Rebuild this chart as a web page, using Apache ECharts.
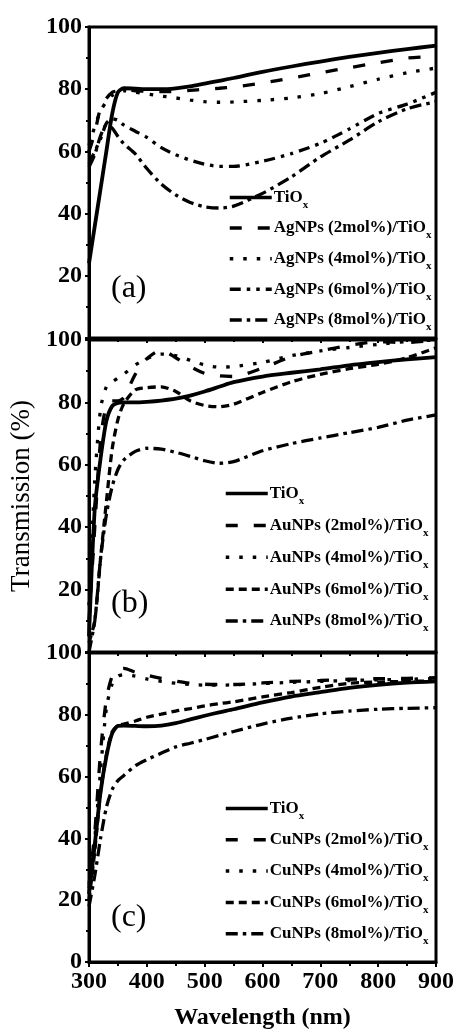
<!DOCTYPE html>
<html><head><meta charset="utf-8">
<script src="https://cdn.jsdelivr.net/npm/echarts@6/dist/echarts.min.js"></script>
<style>html,body{margin:0;padding:0;background:#fff}#c{width:457px;height:1031px}</style>
</head><body><div id="c"></div>
<script>
// ---- data ----
const wavelengths = [300, 310, 320, 330, 340, 350, 360, 380, 400, 425, 450, 475, 500, 525, 550, 600, 650, 700, 750, 800, 850, 900];
const yTicks = [0, 20, 40, 60, 80, 100];
const xTicks = [300, 400, 500, 600, 700, 800, 900];

// panel (a) Ag
const agNames = ['TiOx', 'AgNPs (2mol%)/TiOx', 'AgNPs (4mol%)/TiOx', 'AgNPs (6mol%)/TiOx', 'AgNPs (8mol%)/TiOx'];
const tiA  = [24, 36, 48, 60, 72, 79, 80.3, 80.2, 80, 80, 80.3, 80.9, 81.8, 82.7, 83.6, 85.6, 87.3, 88.9, 90.4, 91.7, 92.9, 94];
const ag2  = [60, 66, 74, 77, 79, 79.5, 79.8, 79.5, 79.3, 79.2, 79.3, 79.6, 80, 80.3, 80.7, 82, 83.6, 85.3, 86.9, 88.5, 90, 90.5];
const ag4  = [62, 68, 73, 76, 78, 79, 79.5, 79, 78.5, 77.8, 77.2, 76.5, 76, 75.8, 75.9, 76.4, 77.2, 78.6, 80.8, 83.2, 85.3, 86.8];
const ag6  = [56, 60, 64, 69, 70.5, 70, 68.5, 66.5, 64.5, 61.2, 58.9, 57.2, 55.9, 55.2, 55.2, 56.8, 59.3, 62.6, 67.2, 72.2, 75.2, 79];
const ag8  = [55, 59, 65, 68.5, 67.5, 64.8, 62.5, 59.2, 54.5, 49.5, 46, 43.6, 42.2, 41.8, 42.4, 46.5, 51.8, 58.2, 63.6, 69.5, 73.7, 76];

// panel (b) Au
const auNames = ['TiOx', 'AuNPs (2mol%)/TiOx', 'AuNPs (4mol%)/TiOx', 'AuNPs (6mol%)/TiOx', 'AuNPs (8mol%)/TiOx'];
const tiB  = [5, 46, 62, 74, 78.8, 79.8, 80, 80, 80.2, 80.6, 81.2, 82.2, 83.5, 85, 86.5, 88.3, 89.5, 90.6, 91.9, 92.9, 93.8, 94.5];
const au2  = [10, 40, 68, 79, 80.5, 80.5, 81.5, 89, 94, 96.8, 94.3, 91.5, 89.3, 88.5, 88.3, 91, 94.6, 96.5, 98.3, 99.4, 99.2, 100];
const au4  = [15, 55, 78, 85, 86.5, 87.8, 89, 92, 94, 95.5, 95, 93.5, 92, 91.3, 91.5, 92.8, 95, 96.5, 97.6, 98.6, 99.5, 100];
const au6  = [3, 10, 30, 48, 65, 74.5, 79.5, 84, 84.7, 85, 83.5, 80.5, 79, 78.6, 79.4, 83.2, 86.6, 89, 90.8, 92.2, 94.3, 97.5];
const au8  = [0, 10, 30, 44, 53, 58.5, 61.5, 64.3, 65.3, 65, 64, 62.7, 61.3, 60.5, 61, 64.5, 66.8, 68.6, 70.3, 72, 74.3, 76];

// panel (c) Cu
const cuNames = ['TiOx', 'CuNPs (2mol%)/TiOx', 'CuNPs (4mol%)/TiOx', 'CuNPs (6mol%)/TiOx', 'CuNPs (8mol%)/TiOx'];
const tiC  = [22, 38, 55, 66.5, 74, 76.4, 76.5, 76.4, 76.3, 76.5, 77.3, 78.5, 79.7, 80.8, 81.8, 84, 85.9, 87.3, 88.7, 89.7, 90.4, 90.8];
const cu2  = [25, 42, 68, 85, 92.5, 94.5, 95, 93.8, 92.8, 91.8, 90.9, 90.2, 89.9, 89.8, 89.8, 90.3, 90.8, 91.1, 91.5, 91.7, 91.8, 92];
const cu4  = [24, 40, 62, 82, 90, 92.5, 93, 92.5, 91.6, 90.8, 90.2, 89.8, 89.6, 89.6, 89.7, 90.1, 90.5, 90.8, 91.1, 91.3, 91.5, 91.8];
const cu6  = [20, 36, 55, 67, 74.5, 76.5, 77, 78, 79.2, 80.2, 81.2, 82, 82.9, 83.6, 84.2, 85.8, 87.2, 88.9, 90.2, 90.6, 90.8, 91];
const cu8  = [18, 28, 40, 50, 55.8, 58.7, 60.3, 63.5, 65.5, 67.6, 69.6, 70.8, 72, 73.3, 74.6, 77, 78.9, 80.3, 81.2, 81.8, 82.1, 82.3];

const panelLabels = ['(a)', '(b)', '(c)'];

// ---- styles ----
const FONT = "'Liberation Serif', 'Times New Roman', serif";
const dashLong = [12, 16];
const dotted = [3.5, 10];
const dashDotDot = [11, 6, 3.5, 6, 3.5, 6];
const dashDot = [12, 5, 3.5, 5];
const dashShort = [8, 5];

const grids = [
  {left: 89, right: 21, top: 27, height: 311},
  {left: 89, right: 21, top: 340, height: 312},
  {left: 89, right: 21, top: 653, height: 311}
];

const panels = [
  {names: agNames, vals: [tiA, ag2, ag4, ag6, ag8], types: ['solid', dashLong, dotted, dashDotDot, dashDot]},
  {names: auNames, vals: [tiB, au2, au4, au6, au8], types: ['solid', dashLong, dotted, dashShort, dashDot]},
  {names: cuNames, vals: [tiC, cu2, cu4, cu6, cu8], types: ['solid', dashLong, dotted, dashShort, dashDot]}
];

const series = [];
panels.forEach((p, gi) => {
  p.names.forEach((nm, si) => {
    series.push({
      type: 'line', name: nm, xAxisIndex: gi, yAxisIndex: gi,
      symbol: 'none', smooth: 0.25, silent: true, animation: false,
      itemStyle: {color: '#000'},
      lineStyle: {color: '#000', width: si === 0 ? 3.8 : 3.3, type: p.types[si], cap: 'butt'},
      data: wavelengths.map((w, i) => [w, p.vals[si][i]])
    });
  });
});

const xAxes = grids.map((g, gi) => ({
  type: 'value', gridIndex: gi, min: 300, max: 900, interval: 100,
  axisLine: {show: true, onZero: false, lineStyle: {color: '#000', width: 3}},
  axisTick: {show: true, inside: false, length: 5, lineStyle: {color: '#000', width: 2}},
  minorTick: {show: true, splitNumber: 2, length: 4, lineStyle: {color: '#000', width: 2}},
  splitLine: {show: false},
  axisLabel: {show: gi === 2, margin: 8, color: '#000', fontFamily: FONT, fontWeight: 'bold', fontSize: 24,
    formatter: v => xTicks.includes(v) ? String(v) : ''},
  name: gi === 2 ? 'Wavelength (nm)' : '',
  nameLocation: 'middle', nameGap: 44,
  nameTextStyle: {color: '#000', fontFamily: FONT, fontWeight: 'bold', fontSize: 24}
}));

const yAxes = grids.map((g, gi) => ({
  type: 'value', gridIndex: gi, min: 0, max: 100, interval: 20,
  axisLine: {show: true, onZero: false, lineStyle: {color: '#000', width: 3}},
  axisTick: {show: true, inside: false, length: 4, lineStyle: {color: '#000', width: 2}},
  minorTick: {show: true, splitNumber: 2, length: 3, lineStyle: {color: '#000', width: 2}},
  splitLine: {show: false},
  axisLabel: {margin: 7, color: '#000', fontFamily: FONT, fontWeight: 'bold', fontSize: 24,
    formatter: v => (gi < 2 && v === 0) ? '' : (yTicks.includes(v) ? String(v) : '')},
  name: gi === 1 ? 'Transmission (%)' : '',
  nameLocation: 'middle', nameGap: 46,
  nameTextStyle: {color: '#000', fontFamily: FONT, fontSize: 27}
}));

const legendTops = [189, 485, 800];
const legendLefts = [228, 224, 224];
const legendGaps = [9.1, 10.4, 9.8];
const legends = panels.map((p, gi) => ({
  data: p.names, orient: 'vertical', left: legendLefts[gi], top: legendTops[gi],
  itemWidth: 42, itemHeight: 14, itemGap: legendGaps[gi], selectedMode: false,
  padding: 0,
  itemStyle: {color: 'rgba(0,0,0,0)', borderColor: 'rgba(0,0,0,0)', borderWidth: 0, opacity: 0},
  lineStyle: {color: '#000', width: 3.5},
  formatter: n => '{m|' + n.slice(0, -1) + '}{s|x}',
  textStyle: {
    padding: [0, 0, 0, -3],
    rich: {
      m: {fontFamily: FONT, fontWeight: 'bold', fontSize: 17, color: '#000', lineHeight: 26, verticalAlign: 'middle'},
      s: {fontFamily: FONT, fontWeight: 'bold', fontSize: 11, color: '#000', lineHeight: 26, verticalAlign: 'bottom'}
    }
  }
}));

const titles = panelLabels.map((t, i) => ({
  text: t, left: 111, top: [273, 588, 902][i], padding: 0,
  textStyle: {fontFamily: FONT, fontWeight: 'normal', fontSize: 32, color: '#000'}
}));

const chart = echarts.init(document.getElementById('c'), null, {renderer: 'canvas'});
chart.setOption({
  backgroundColor: '#fff',
  animation: false,
  title: titles,
  grid: grids.map(g => Object.assign({show: true, borderColor: '#000', borderWidth: 3, backgroundColor: 'transparent'}, g)),
  xAxis: xAxes,
  yAxis: yAxes,
  legend: legends,
  series: series
});
</script>
</body></html>
